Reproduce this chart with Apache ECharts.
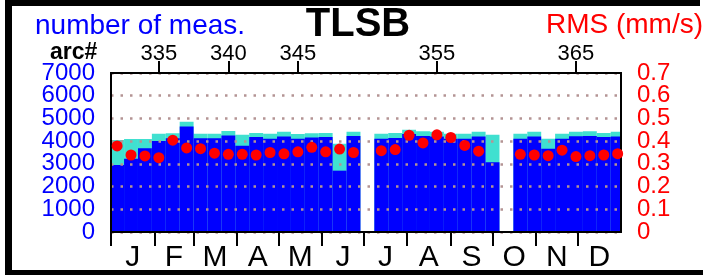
<!DOCTYPE html>
<html>
<head>
<meta charset="utf-8">
<script src="https://cdn.jsdelivr.net/npm/echarts@6/dist/echarts.min.js"></script>
<style>
html,body{margin:0;padding:0;background:#fff;}
#chart{width:703px;height:275px;}
</style>
</head>
<body>
<div id="chart"></div>
<script>
// ---- data ----
const arcs = [332,333,334,335,336,337,338,339,340,341,342,343,344,345,346,347,348,349,350,
              351,352,353,354,355,356,357,358,359,360,361,362,363,364,365,366,367,368];
const totalMeas = [4050,4090,4090,4320,4350,4850,4320,4320,4450,4280,4360,4320,4410,4310,4350,4360,3880,4410,null,
                   4320,4360,4500,4440,4410,4320,4320,4410,4280,null,4320,4410,4100,4320,4410,4440,4360,4410];
const usedMeas  = [2950,3220,3690,4010,4130,4640,4130,4130,4250,3800,4180,4110,4200,4100,4160,4180,2700,4230,null,
                   4100,4140,4310,4230,4200,4110,4100,4200,3070,null,4100,4200,3660,4110,4220,4230,4180,4200];
const rms = [0.379,0.339,0.335,0.327,0.404,0.370,0.367,0.347,0.342,0.342,0.339,0.350,0.344,0.353,0.373,0.353,0.365,0.350,null,
             0.358,0.363,0.426,0.392,0.428,0.416,0.381,0.356,null,null,0.342,0.339,0.336,0.360,0.332,0.336,0.339,0.345];
const arcTicks = [335,340,345,355,365];
const monthStarts = [0,31,59,90,120,151,181,212,243,273,304,334];
const monthMids = [15.5,45,74.5,105,135.5,166,196.5,227.5,258,288.5,319,349.5];
const monthLabels = ['J','F','M','A','M','J','J','A','S','O','N','D'];
const measTicksEven = [0,2000,4000,6000];
const measTicksOdd = [1000,3000,5000,7000];
const rmsTicksEven = [0,0.2,0.4,0.6];
const rmsTicksOdd = [0.1,0.3,0.5,0.7];
const leftTitle = 'number of meas.';
const rightTitle = 'RMS (mm/s)';
const mainTitle = 'TLSB';
const arcTitle = 'arc#';

// ---- build series data ----
const totalData = [], usedData = [], rmsData = [];
arcs.forEach((a, i) => {
  if (totalMeas[i] != null) totalData.push([a, totalMeas[i]]);
  if (usedMeas[i] != null) usedData.push([a, usedMeas[i]]);
  if (rms[i] != null) rmsData.push([a, rms[i]]);
});

function barRenderer(color) {
  return function (params, api) {
    const a = api.value(0), v = api.value(1);
    const p0 = api.coord([a - 0.5, v]);
    const p1 = api.coord([a + 0.5, 0]);
    const cs = params.coordSys;
    const r = echarts.graphic.clipRectByRect(
      {x: p0[0], y: p0[1], width: p1[0] - p0[0], height: p1[1] - p0[1]},
      {x: cs.x, y: cs.y, width: cs.width, height: cs.height});
    return r && {type: 'rect', shape: r, style: {fill: color}};
  };
}

const FF = 'Liberation Sans, Arial, Helvetica, sans-serif';
const line2 = {show: true, onZero: false, lineStyle: {color: '#000', width: 2}};
function measAxis(vals, withGrid) {
  return {
    type: 'value', position: 'left', min: 0, max: 7000, interval: 1000, z: 3,
    axisLine: line2, axisTick: {show: false},
    axisLabel: {customValues: vals, margin: 16, fontSize: 24, color: '#0000ff', fontFamily: FF,
      formatter: v => String(Math.round(v))},
    splitLine: {show: withGrid, lineStyle: {color: '#b49494', width: 2.5, type: [2.5, 7]}}
  };
}
function rmsAxis(vals) {
  return {
    type: 'value', position: 'right', min: 0, max: 0.7, interval: 0.1, z: 3,
    axisLine: line2, axisTick: {show: false},
    axisLabel: {customValues: vals, margin: 16, fontSize: 24, color: '#ff0000', fontFamily: FF,
      formatter: v => v === 0 ? '0' : v.toFixed(1)},
    splitLine: {show: false}
  };
}

const chart = echarts.init(document.getElementById('chart'), null, {renderer: 'canvas'});
chart.setOption({
  animation: false,
  backgroundColor: '#fff',
  grid: {left: 111, top: 73, width: 510, height: 159, show: false},
  xAxis: [
    {
      type: 'value', position: 'bottom', min: 0, max: 365, z: 3,
      axisLine: line2,
      axisTick: {show: true, customValues: monthStarts, length: 14, lineStyle: {color: '#000', width: 2}},
      axisLabel: {show: true, customValues: monthMids, margin: 11, fontSize: 30, color: '#000', fontFamily: FF,
        formatter: v => { const k = monthMids.indexOf(v); return k >= 0 ? monthLabels[k] : ''; }},
      splitLine: {show: false}
    },
    {
      type: 'value', position: 'top', min: 331.56, max: 368.24, z: 3,
      axisLine: line2,
      axisTick: {show: true, customValues: arcTicks, length: 12, lineStyle: {color: '#000', width: 2}},
      axisLabel: {show: true, customValues: arcTicks, margin: 8, fontSize: 22, color: '#000', fontFamily: FF},
      splitLine: {show: false}
    }
  ],
  yAxis: [
    measAxis(measTicksEven, true),
    rmsAxis(rmsTicksEven),
    measAxis(measTicksOdd, false),
    rmsAxis(rmsTicksOdd)
  ],
  series: [
    {type: 'custom', name: 'total', xAxisIndex: 1, yAxisIndex: 0, z: 1,
     renderItem: barRenderer('#40e0d0'), data: totalData},
    {type: 'custom', name: 'used', xAxisIndex: 1, yAxisIndex: 0, z: 2,
     renderItem: barRenderer('#0000ff'), data: usedData},
    {type: 'scatter', name: 'rms', xAxisIndex: 1, yAxisIndex: 1, z: 5,
     symbol: 'circle', symbolSize: 11, itemStyle: {color: '#ff0000', opacity: 1}, data: rmsData}
  ],
  graphic: [
    {type: 'text', z: 10, style: {text: leftTitle, x: 35, y: 26, font: '28px ' + FF, fill: '#0000ff', textAlign: 'left', textVerticalAlign: 'middle'}},
    {type: 'text', z: 10, style: {text: mainTitle, x: 358, y: 25, font: 'bold 40px ' + FF, fill: '#000', textAlign: 'center', textVerticalAlign: 'middle'}},
    {type: 'text', z: 10, style: {text: rightTitle, x: 703, y: 25, font: '28px ' + FF, fill: '#ff0000', textAlign: 'right', textVerticalAlign: 'middle'}},
    {type: 'text', z: 10, style: {text: arcTitle, x: 50, y: 53, font: 'bold 23px ' + FF, fill: '#000', textAlign: 'left', textVerticalAlign: 'middle'}},
    {type: 'rect', z: 20, shape: {x: 5, y: 0, width: 695, height: 6}, style: {fill: '#000'}},
    {type: 'rect', z: 20, shape: {x: 5, y: 0, width: 7, height: 275}, style: {fill: '#000'}},
    {type: 'rect', z: 20, shape: {x: 5, y: 270, width: 698, height: 5}, style: {fill: '#000'}}
  ]
});
</script>
</body>
</html>
